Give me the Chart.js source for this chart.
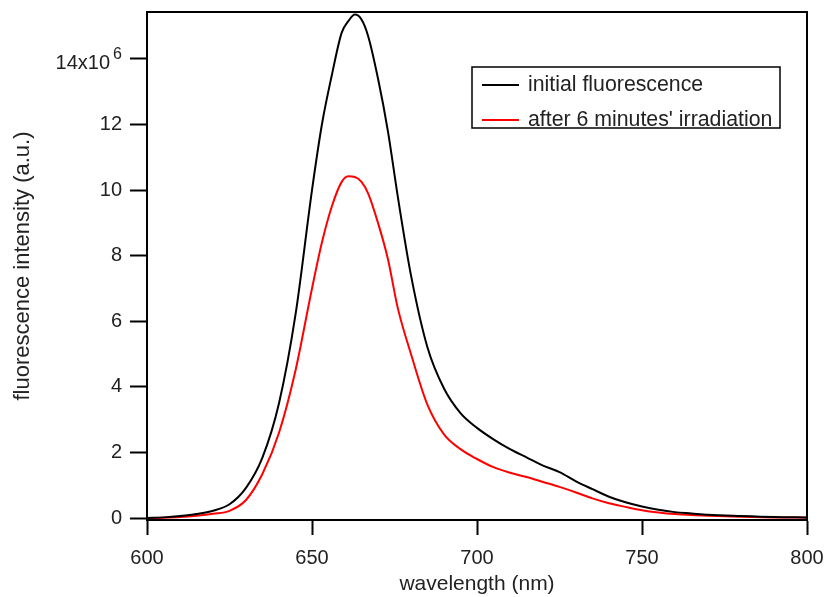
<!DOCTYPE html>
<html>
<head>
<meta charset="utf-8">
<script src="https://cdn.jsdelivr.net/npm/chart.js@4"></script>
<style>
  html, body { margin: 0; padding: 0; background: #fff; }
  #wrap { width: 830px; height: 597px; }
</style>
</head>
<body>
<div id="wrap"><canvas id="spectrum"></canvas></div>
<script>
// wavelength grid (nm) shared by both spectra
const wavelengths = [600, 605, 610, 615, 620, 625, 630, 635, 640, 645, 650, 653, 656, 659, 661, 663, 665, 667, 670, 673, 676, 680, 685, 690, 695, 700, 705, 710, 715, 720, 725, 730, 735, 740, 745, 750, 755, 760, 765, 770, 780, 790, 800];

// intensities in units of 1e6 (a.u.)
const initialFluor = [0.0, 0.02, 0.06, 0.12, 0.22, 0.42, 0.92, 1.85, 3.5, 6.2, 10.0, 12.0, 13.5, 14.8, 15.15, 15.35, 15.2, 14.7, 13.4, 11.8, 9.8, 7.4, 5.2, 3.95, 3.2, 2.75, 2.4, 2.1, 1.85, 1.6, 1.4, 1.12, 0.88, 0.65, 0.48, 0.35, 0.25, 0.18, 0.14, 0.1, 0.06, 0.03, 0.02];
const irradiated = [0.0, 0.01, 0.03, 0.07, 0.13, 0.22, 0.55, 1.35, 2.6, 4.5, 7.0, 8.4, 9.5, 10.25, 10.42, 10.4, 10.25, 9.9, 9.0, 7.9, 6.4, 5.0, 3.45, 2.55, 2.1, 1.8, 1.55, 1.38, 1.25, 1.1, 0.95, 0.78, 0.6, 0.45, 0.34, 0.24, 0.17, 0.12, 0.09, 0.07, 0.04, 0.02, 0.01];

const seriesLabels = ['initial fluorescence', "after 6 minutes' irradiation"];
const xTicks = [600, 650, 700, 750, 800];
const yTicks = [0, 2, 4, 6, 8, 10, 12, 14];

const FONT = 'Liberation Sans, Arial, Helvetica, sans-serif';
const INK = '#222';

function toPoints(ys) {
  return wavelengths.map((w, i) => ({ x: w, y: ys[i] }));
}

// top + right frame, the "14x10^6" label, and the boxed legend
const extras = {
  id: 'extras',
  afterDraw(chart) {
    const { ctx, chartArea: a, scales } = chart;
    ctx.save();
    ctx.strokeStyle = '#000';
    ctx.lineWidth = 2;
    ctx.beginPath();
    ctx.moveTo(a.left, a.top);
    ctx.lineTo(a.right, a.top);
    ctx.lineTo(a.right, a.bottom);
    ctx.stroke();

    // top y label with exponent
    const yTop = scales.y.getPixelForValue(14);
    const labelRight = a.left - 25;
    ctx.fillStyle = INK;
    ctx.textBaseline = 'middle';
    ctx.textAlign = 'right';
    ctx.font = '16px ' + FONT;
    ctx.fillText('6', labelRight, yTop - 4);
    const w6 = ctx.measureText('6').width;
    ctx.font = '20px ' + FONT;
    ctx.fillText('14x10', labelRight - w6 - 3, yTop + 4.5);

    // legend
    const lx = 472, ly = 67, lw = 308, lh = 61;
    ctx.lineWidth = 1.5;
    ctx.strokeStyle = '#000';
    ctx.strokeRect(lx, ly, lw, lh);
    const rows = [85, 120];
    chart.data.datasets.forEach((ds, i) => {
      ctx.strokeStyle = ds.borderColor;
      ctx.lineWidth = 2;
      ctx.beginPath();
      ctx.moveTo(482, rows[i]);
      ctx.lineTo(519, rows[i]);
      ctx.stroke();
      ctx.fillStyle = INK;
      ctx.textAlign = 'left';
      ctx.font = '21.3px ' + FONT;
      ctx.fillText(ds.label, 528, rows[i]);
    });
    ctx.restore();
  }
};

const ctx = document.getElementById('spectrum').getContext('2d');
new Chart(ctx, {
  type: 'line',
  data: {
    datasets: [
      { label: seriesLabels[0], data: toPoints(initialFluor), borderColor: '#000000', borderWidth: 2, pointRadius: 0, cubicInterpolationMode: 'monotone' },
      { label: seriesLabels[1], data: toPoints(irradiated), borderColor: '#ff0000', borderWidth: 2, pointRadius: 0, cubicInterpolationMode: 'monotone' }
    ]
  },
  options: {
    responsive: true,
    maintainAspectRatio: false,
    animation: false,
    layout: { padding: { top: 12, right: 23, left: 0, bottom: 0 } },
    plugins: {
      legend: { display: false },
      tooltip: { enabled: false }
    },
    scales: {
      x: {
        type: 'linear',
        min: 600,
        max: 800,
        afterFit: (s) => { s.height = 77; s.paddingLeft = 0; s.paddingRight = 0; },
        afterBuildTicks: (s) => { s.ticks = xTicks.map(v => ({ value: v })); },
        border: { display: true, color: '#000', width: 2 },
        grid: { drawOnChartArea: false, drawTicks: true, tickLength: 15, tickColor: '#000', tickWidth: 2 },
        ticks: { color: INK, font: { family: FONT, size: 20 }, padding: 11, maxRotation: 0 },
        title: { display: true, text: 'wavelength (nm)', color: INK, font: { family: FONT, size: 21 }, padding: { top: 0, bottom: 0 } }
      },
      y: {
        min: -0.06,
        max: 15.43,
        afterFit: (s) => { s.width = 147; s.paddingTop = 0; s.paddingBottom = 0; },
        afterBuildTicks: (s) => { s.ticks = yTicks.map(v => ({ value: v })); },
        border: { display: true, color: '#000', width: 2 },
        grid: { drawOnChartArea: false, drawTicks: true, tickLength: 17, tickColor: '#000', tickWidth: 2 },
        ticks: {
          color: INK,
          font: { family: FONT, size: 20 },
          padding: 8,
          callback: (v) => (v === 14 ? '' : String(v))
        },
        title: { display: true, text: 'fluorescence intensity (a.u.)', color: INK, font: { family: FONT, size: 22 }, padding: { top: 10, bottom: 0 } }
      }
    }
  },
  plugins: [extras]
});
</script>
</body>
</html>
